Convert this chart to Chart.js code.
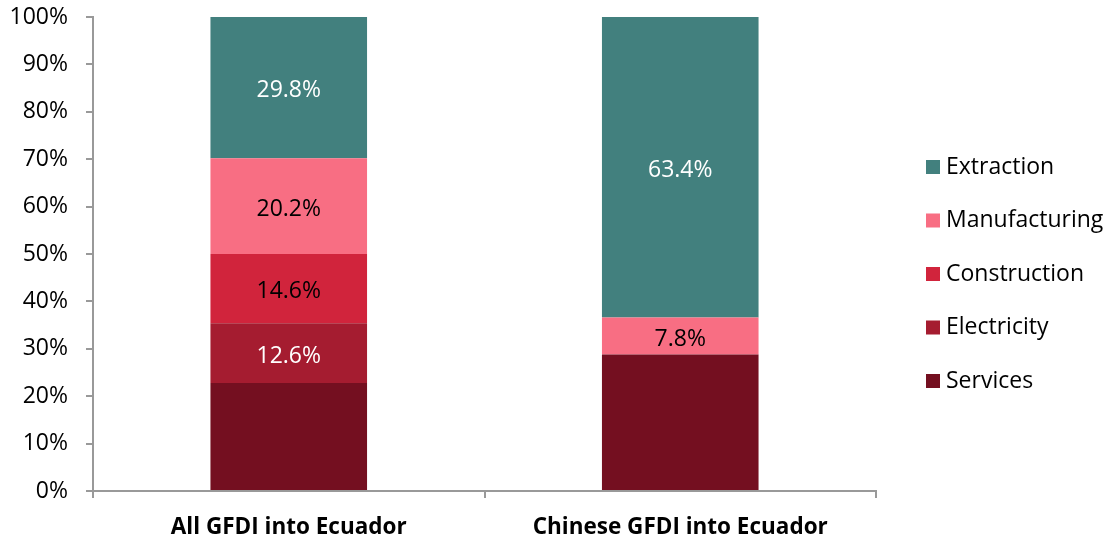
<!DOCTYPE html>
<html>
<head>
<meta charset="utf-8">
<script src="https://cdn.jsdelivr.net/npm/chart.js@4/dist/chart.umd.min.js"></script>
<style>
  html, body { margin: 0; padding: 0; background: #fff; }
  #wrap { width: 1110px; height: 540px; position: relative; }
</style>
</head>
<body>
<div id="wrap"><canvas id="gfdiChart"></canvas></div>
<script>
const categories = ["All GFDI into Ecuador", "Chinese GFDI into Ecuador"];
const services = [22.8, 28.8];
const electricity = [12.6, 0];
const construction = [14.6, 0];
const manufacturing = [20.2, 7.8];
const extraction = [29.8, 63.4];
const yTicks = [0, 10, 20, 30, 40, 50, 60, 70, 80, 90, 100];

const FONT = "'Open Sans', sans-serif";

// bar value labels (services carries no label in the source)
const valueLabels = {
  id: "valueLabels",
  afterDatasetsDraw(chart) {
    const ctx = chart.ctx;
    chart.data.datasets.forEach((ds, i) => {
      if (!ds.showLabel) return;
      chart.getDatasetMeta(i).data.forEach((bar, j) => {
        const v = ds.data[j];
        if (!v) return;
        ctx.save();
        ctx.fillStyle = ds.labelColor;
        ctx.font = "23px " + FONT;
        ctx.textAlign = "center";
        ctx.textBaseline = "middle";
        ctx.fillText(v.toFixed(1) + "%", bar.x, (bar.y + bar.base) / 2 + 3);
        ctx.restore();
      });
    });
  }
};

// legend on the right, top entry = top of the stack
const sideLegend = {
  id: "sideLegend",
  afterDraw(chart) {
    const ctx = chart.ctx;
    const area = chart.chartArea;
    const items = chart.data.datasets.slice().reverse();
    const x = area.right + 50;
    const step = 53.5;
    const y0 = (area.top + area.bottom) / 2 - step * (items.length - 1) / 2 + 20;
    ctx.save();
    ctx.font = "23px " + FONT;
    ctx.textBaseline = "middle";
    items.forEach((ds, k) => {
      const y = y0 + k * step;
      ctx.fillStyle = ds.backgroundColor;
      ctx.fillRect(x, y - 7, 14, 14);
      ctx.fillStyle = "#000";
      ctx.fillText(ds.label, x + 20, y);
    });
    ctx.restore();
  }
};

const ctx = document.getElementById("gfdiChart").getContext("2d");
new Chart(ctx, {
  type: "bar",
  data: {
    labels: categories,
    datasets: [
      { label: "Services", data: services, backgroundColor: "#740f20", showLabel: false },
      { label: "Electricity", data: electricity, backgroundColor: "#a51c30", showLabel: true, labelColor: "#fff" },
      { label: "Construction", data: construction, backgroundColor: "#d1243c", showLabel: true, labelColor: "#000" },
      { label: "Manufacturing", data: manufacturing, backgroundColor: "#f86e83", showLabel: true, labelColor: "#000" },
      { label: "Extraction", data: extraction, backgroundColor: "#42807e", showLabel: true, labelColor: "#fff" },
    ],
  },
  options: {
    responsive: true,
    maintainAspectRatio: false,
    animation: false,
    layout: { padding: { top: 17, right: 234, left: 0, bottom: 0 } },
    datasets: { bar: { categoryPercentage: 1.0, barPercentage: 0.4 } },
    scales: {
      x: {
        stacked: true,
        afterFit(axis) { axis.height = 49; axis.paddingLeft = 0; axis.paddingRight = 0; },
        grid: { offset: true, drawOnChartArea: false, tickLength: 7, color: "#999", lineWidth: 2 },
        border: { color: "#999", width: 2 },
        ticks: { color: "#000", font: { size: 22.5, weight: "bold", family: FONT }, padding: 16 },
      },
      y: {
        stacked: true,
        min: 0,
        max: 100,
        afterFit(axis) { axis.width = 93; axis.paddingTop = 0; axis.paddingBottom = 0; },
        afterBuildTicks(axis) { axis.ticks = yTicks.map(v => ({ value: v })); },
        grid: { drawOnChartArea: false, tickLength: 7, color: "#999", lineWidth: 2 },
        border: { color: "#999", width: 2 },
        ticks: { color: "#000", font: { size: 23, family: FONT }, padding: 18, callback: v => v + "%" },
      },
    },
    plugins: {
      tooltip: { enabled: false },
      legend: { display: false },
    },
  },
  plugins: [valueLabels, sideLegend],
});
</script>
</body>
</html>
